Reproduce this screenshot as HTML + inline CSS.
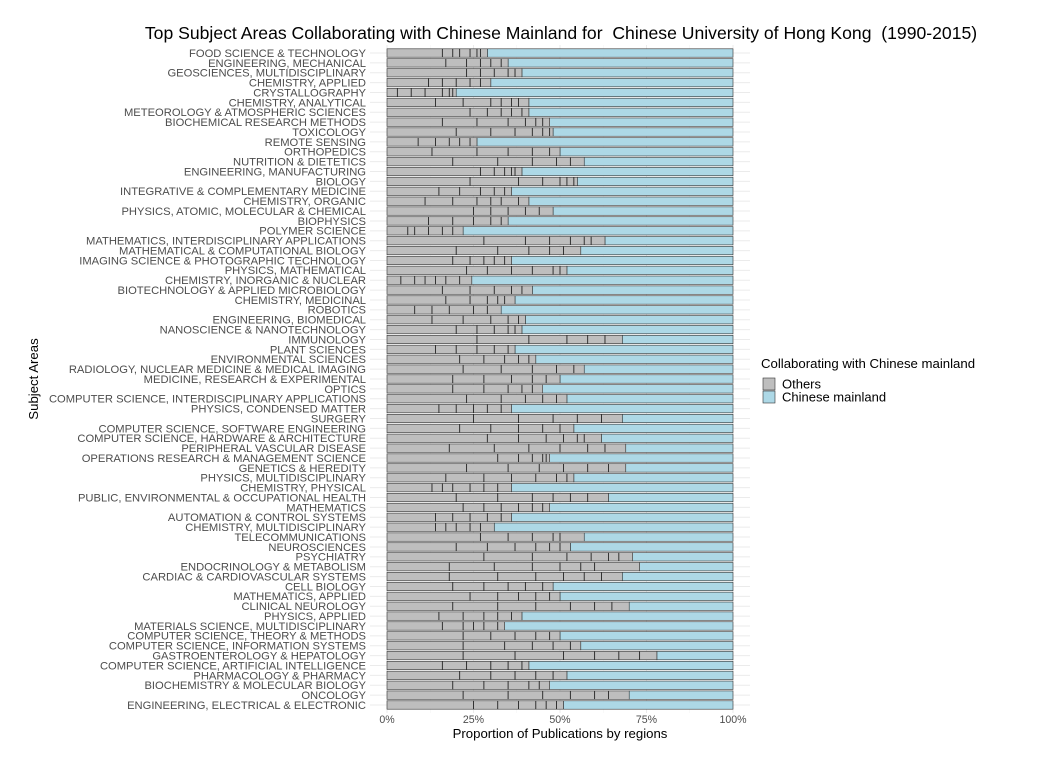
<!DOCTYPE html>
<html><head><meta charset="utf-8"><style>
body{margin:0;background:#fff;}
svg text{font-family:"Liberation Sans",sans-serif;white-space:pre;}
</style></head><body>
<svg id="chart" width="1042" height="768" xmlns="http://www.w3.org/2000/svg"></svg>
<script>
const categories=["FOOD SCIENCE & TECHNOLOGY","ENGINEERING, MECHANICAL","GEOSCIENCES, MULTIDISCIPLINARY","CHEMISTRY, APPLIED","CRYSTALLOGRAPHY","CHEMISTRY, ANALYTICAL","METEOROLOGY & ATMOSPHERIC SCIENCES","BIOCHEMICAL RESEARCH METHODS","TOXICOLOGY","REMOTE SENSING","ORTHOPEDICS","NUTRITION & DIETETICS","ENGINEERING, MANUFACTURING","BIOLOGY","INTEGRATIVE & COMPLEMENTARY MEDICINE","CHEMISTRY, ORGANIC","PHYSICS, ATOMIC, MOLECULAR & CHEMICAL","BIOPHYSICS","POLYMER SCIENCE","MATHEMATICS, INTERDISCIPLINARY APPLICATIONS","MATHEMATICAL & COMPUTATIONAL BIOLOGY","IMAGING SCIENCE & PHOTOGRAPHIC TECHNOLOGY","PHYSICS, MATHEMATICAL","CHEMISTRY, INORGANIC & NUCLEAR","BIOTECHNOLOGY & APPLIED MICROBIOLOGY","CHEMISTRY, MEDICINAL","ROBOTICS","ENGINEERING, BIOMEDICAL","NANOSCIENCE & NANOTECHNOLOGY","IMMUNOLOGY","PLANT SCIENCES","ENVIRONMENTAL SCIENCES","RADIOLOGY, NUCLEAR MEDICINE & MEDICAL IMAGING","MEDICINE, RESEARCH & EXPERIMENTAL","OPTICS","COMPUTER SCIENCE, INTERDISCIPLINARY APPLICATIONS","PHYSICS, CONDENSED MATTER","SURGERY","COMPUTER SCIENCE, SOFTWARE ENGINEERING","COMPUTER SCIENCE, HARDWARE & ARCHITECTURE","PERIPHERAL VASCULAR DISEASE","OPERATIONS RESEARCH & MANAGEMENT SCIENCE","GENETICS & HEREDITY","PHYSICS, MULTIDISCIPLINARY","CHEMISTRY, PHYSICAL","PUBLIC, ENVIRONMENTAL & OCCUPATIONAL HEALTH","MATHEMATICS","AUTOMATION & CONTROL SYSTEMS","CHEMISTRY, MULTIDISCIPLINARY","TELECOMMUNICATIONS","NEUROSCIENCES","PSYCHIATRY","ENDOCRINOLOGY & METABOLISM","CARDIAC & CARDIOVASCULAR SYSTEMS","CELL BIOLOGY","MATHEMATICS, APPLIED","CLINICAL NEUROLOGY","PHYSICS, APPLIED","MATERIALS SCIENCE, MULTIDISCIPLINARY","COMPUTER SCIENCE, THEORY & METHODS","COMPUTER SCIENCE, INFORMATION SYSTEMS","GASTROENTEROLOGY & HEPATOLOGY","COMPUTER SCIENCE, ARTIFICIAL INTELLIGENCE","PHARMACOLOGY & PHARMACY","BIOCHEMISTRY & MOLECULAR BIOLOGY","ONCOLOGY","ENGINEERING, ELECTRICAL & ELECTRONIC"];
const othersShare=[.29,.35,.39,.30,.20,.41,.41,.47,.48,.26,.50,.57,.39,.55,.36,.41,.48,.35,.22,.63,.56,.36,.52,.245,.42,.37,.33,.40,.39,.68,.37,.43,.57,.50,.45,.52,.36,.68,.54,.62,.69,.47,.69,.54,.36,.64,.47,.36,.31,.57,.53,.71,.73,.68,.48,.50,.70,.39,.34,.50,.56,.78,.41,.52,.47,.70,.51];
const yearDividers=[[.16,.19,.21,.24,.26,.27],[.17,.23,.27,.30,.33],[.23,.27,.31,.35,.37],[.12,.16,.20,.24,.27],[.03,.07,.11,.16,.18,.19],[.14,.22,.30,.33,.36,.38],[.24,.29,.33,.36,.39],[.16,.26,.35,.40,.43,.45],[.20,.30,.37,.42,.45,.47],[.09,.14,.18,.21,.24],[.13,.26,.35,.42,.47],[.19,.32,.42,.49,.53],[.27,.31,.34,.36,.37],[.24,.38,.45,.50,.52,.54],[.15,.21,.27,.31,.34],[.11,.19,.26,.30,.33,.38],[.25,.30,.35,.40,.44],[.12,.19,.25,.30,.33],[.06,.08,.12,.16,.19],[.28,.40,.47,.53,.57,.59],[.20,.32,.41,.47,.51],[.19,.24,.28,.31,.34],[.23,.29,.36,.42,.48,.50],[.04,.08,.11,.14,.17,.21],[.16,.24,.31,.36,.39],[.17,.24,.29,.32,.34],[.08,.13,.18,.25,.29],[.13,.22,.30,.35,.38],[.20,.26,.31,.35,.37],[.26,.41,.52,.58,.63],[.14,.20,.26,.31,.35],[.21,.28,.34,.38,.41],[.22,.33,.42,.49,.54],[.19,.28,.36,.42,.46],[.19,.28,.35,.39,.42],[.23,.33,.40,.45,.49],[.15,.20,.25,.29,.33],[.25,.38,.48,.55,.62],[.21,.30,.38,.45,.50],[.29,.38,.46,.51,.55,.57],[.18,.31,.41,.50,.58,.63],[.32,.38,.42,.45,.46],[.23,.35,.44,.51,.58,.64],[.17,.28,.36,.43,.49,.52],[.13,.16,.19,.24,.28,.32],[.20,.32,.42,.48,.53,.58],[.22,.28,.33,.38,.42,.45],[.14,.19,.24,.29,.33],[.14,.17,.20,.24,.27],[.27,.35,.42,.48,.50],[.20,.29,.37,.43,.47,.50],[.28,.42,.52,.59,.64,.67],[.18,.31,.42,.50,.56,.60],[.18,.32,.43,.51,.57,.62],[.19,.28,.35,.40,.45],[.24,.32,.38,.43,.47],[.19,.32,.43,.53,.60,.65],[.15,.22,.28,.32,.36],[.16,.22,.25,.28,.32],[.22,.30,.37,.43,.47],[.22,.34,.42,.48,.53],[.22,.37,.51,.60,.67,.73],[.16,.23,.30,.35,.39],[.21,.30,.37,.43,.48],[.19,.28,.35,.41,.44],[.22,.35,.45,.53,.60,.64],[.25,.32,.38,.43,.46,.49]];
const xTicks=[0,.25,.5,.75,1];
const xTickLabels=["0%","25%","50%","75%","100%"];

const svg=document.getElementById('chart');
const NS="http://www.w3.org/2000/svg";
const X0=387,X1=733,Y0=53,Y1=705;
const x=v=>X0+v*(X1-X0);
const y=i=>Y0+i*(Y1-Y0)/(categories.length-1);
function mk(tag,attrs,parent){const e=document.createElementNS(NS,tag);for(const k in attrs)e.setAttribute(k,attrs[k]);(parent||svg).appendChild(e);return e;}

for(let t=0;t<=1.0001;t+=0.125){const g=mk('line',{x1:x(t),x2:x(t),y1:45,y2:713,stroke:(Math.round(t*8)%2?'#f3f3f3':'#ebebeb'),'stroke-width':(Math.round(t*8)%2?0.5:1)});

}
categories.forEach((c,i)=>{const g=mk('line',{x1:370,x2:750,y1:y(i),y2:y(i),stroke:'#ebebeb','stroke-width':1});

});

categories.forEach((c,i)=>{
  const yc=y(i),h=8.4;
  const grp=mk('g',{});
  
  
  const b=mk('rect',{x:x(othersShare[i]),y:yc-h/2,width:x(1)-x(othersShare[i]),height:h,fill:'#add8e6',stroke:'#333','stroke-width':0.6},grp);
  
  
  const o=mk('rect',{x:x(0),y:yc-h/2,width:x(othersShare[i])-x(0),height:h,fill:'#bebebe',stroke:'#333','stroke-width':0.6},grp);
  
  
  yearDividers[i].forEach(d=>{if(d<othersShare[i]){const l=mk('line',{x1:x(d),x2:x(d),y1:yc-h/2,y2:yc+h/2,stroke:'#222','stroke-width':0.9},grp);
    
    }});
  const t=mk('text',{x:366,y:yc+3.9,'text-anchor':'end','font-size':11.2,fill:'#4d4d4d'});
  t.textContent=c;
  
  
});
xTicks.forEach((v,i)=>{const t=mk('text',{x:x(v),y:723,'text-anchor':'middle','font-size':10.6,fill:'#4d4d4d'});t.textContent=xTickLabels[i];

});
let t=mk('text',{x:560,y:738,'text-anchor':'middle','font-size':13.2,fill:'#000'});t.textContent='Proportion of Publications by regions';

t=mk('text',{x:0,y:0,'text-anchor':'middle','font-size':13.2,fill:'#000',transform:'translate(38,379) rotate(-90)'});t.textContent='Subject Areas';

t=mk('text',{x:561,y:39,'text-anchor':'middle','font-size':17.6,fill:'#000'});t.textContent='Top Subject Areas Collaborating with Chinese Mainland for  Chinese University of Hong Kong  (1990-2015)';

t=mk('text',{x:761,y:368,'font-size':13.2,fill:'#000'});t.textContent='Collaborating with Chinese mainland';

[['Others','#bebebe',384],['Chinese mainland','#add8e6',397]].forEach(([n,c,yy])=>{
  const g=mk('g',{});
  mk('rect',{x:763,y:yy-6,width:12,height:12,fill:c,stroke:'#333','stroke-width':0.6},g);
  const tx=mk('text',{x:782,y:yy+4.5,'font-size':13,fill:'#000'},g);tx.textContent=n;
});
</script>
</body></html>
